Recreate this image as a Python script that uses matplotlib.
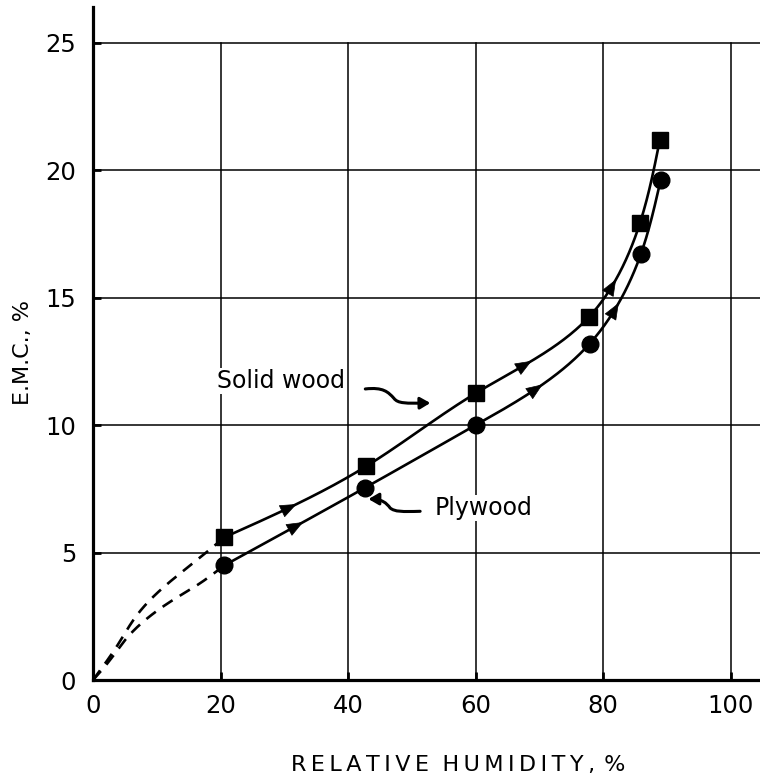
import numpy as np
import matplotlib.pyplot as plt
from matplotlib.patches import FancyArrowPatch
from matplotlib.path import Path

# Measured points (relative humidity %, EMC %)
solid_rh = [20.6, 42.8, 60.0, 77.8, 85.8, 88.9]
solid_emc = [5.6, 8.38, 11.25, 14.25, 17.95, 21.2]
ply_rh = [20.6, 42.7, 60.0, 77.9, 85.9, 89.0]
ply_emc = [4.5, 7.55, 10.0, 13.2, 16.7, 19.6]

# Dashed extrapolation toward the origin
solid_dash_rh = [0, 1.6, 3.8, 6.6, 10.0, 14.0, 17.5, 20.6]
solid_dash_emc = [0, 0.55, 1.35, 2.45, 3.4, 4.25, 4.95, 5.6]
ply_dash_rh = [0, 2.4, 5.3, 8.9, 12.6, 16.8, 20.6]
ply_dash_emc = [0, 0.7, 1.65, 2.5, 3.15, 3.8, 4.5]

x_ticks = [0, 20, 40, 60, 80, 100]
y_ticks = [0, 5, 10, 15, 20, 25]

# where the direction arrows sit on each curve
solid_arrow_rh = [31.4, 68.3, 81.8]
ply_arrow_rh = [32.5, 70.2, 82.2]

# pixel scale of the axes, used to get a sensible chord length
SX, SY = 6.375, 25.48


def natural_spline(t, v, ts):
    # natural cubic spline of v(t), just for drawing
    t = np.asarray(t, float)
    v = np.asarray(v, float)
    n = len(t)
    h = np.diff(t)
    A = np.zeros((n, n))
    b = np.zeros(n)
    A[0, 0] = A[-1, -1] = 1
    for i in range(1, n - 1):
        A[i, i - 1] = h[i - 1]
        A[i, i] = 2 * (h[i - 1] + h[i])
        A[i, i + 1] = h[i]
        b[i] = 3 * ((v[i + 1] - v[i]) / h[i] - (v[i] - v[i - 1]) / h[i - 1])
    c = np.linalg.solve(A, b)
    idx = np.clip(np.searchsorted(t, ts) - 1, 0, n - 2)
    dt = ts - t[idx]
    bb = (v[idx + 1] - v[idx]) / h[idx] - h[idx] * (2 * c[idx] + c[idx + 1]) / 3
    d = (c[idx + 1] - c[idx]) / (3 * h[idx])
    return v[idx] + bb * dt + c[idx] * dt**2 + d * dt**3


def smooth_curve(x, y, n=400):
    x = np.asarray(x, float)
    y = np.asarray(y, float)
    seg = np.hypot(np.diff(x) * SX, np.diff(y) * SY)
    t = np.concatenate([[0], np.cumsum(seg)])
    ts = np.linspace(0, t[-1], n)
    return natural_spline(t, x, ts), natural_spline(t, y, ts)


plt.rcParams['font.family'] = 'DejaVu Sans'

fig = plt.figure(figsize=(7.6, 7.77), dpi=100)
ax = fig.add_axes([0.1224, 0.1248, 0.8776, 0.866])
xmax, ymax = 104.6, 26.4
ax.set_xlim(0, xmax)
ax.set_ylim(0, ymax)

# grid (vertical lines stop at 25, horizontal run to the edge)
for gx in x_ticks[1:]:
    ax.plot([gx, gx], [0, 25], color='black', lw=1.1, zorder=1)
for gy in y_ticks[1:]:
    ax.plot([0, xmax], [gy, gy], color='black', lw=1.1, zorder=1)

lw = 1.9
for rx, ry, dx, dy, mk, ms, arr in [
        (solid_rh, solid_emc, solid_dash_rh, solid_dash_emc, 's', 11, solid_arrow_rh),
        (ply_rh, ply_emc, ply_dash_rh, ply_dash_emc, 'o', 12, ply_arrow_rh)]:
    cx, cy = smooth_curve(rx, ry)
    ax.plot(cx, cy, color='black', lw=lw, zorder=3)
    ddx, ddy = smooth_curve(dx, dy, 200)
    ax.plot(ddx, ddy, color='black', lw=lw, ls=(0, (4.5, 3.2)), zorder=3)
    ax.plot(rx, ry, ls='none', marker=mk, ms=ms, color='black', zorder=4)
    for a in arr:
        k = np.argmin(np.abs(cx - a))
        ax.annotate('', xy=(cx[k + 2], cy[k + 2]), xytext=(cx[k - 2], cy[k - 2]),
                    arrowprops=dict(arrowstyle='-|>,head_length=0.55,head_width=0.22',
                                    mutation_scale=20, color='black', lw=0.5,
                                    shrinkA=0, shrinkB=0), zorder=5)

# labels with their squiggly pointers
ax.text(19.4, 11.73, 'Solid wood', fontsize=17, ha='left', va='center',
        bbox=dict(facecolor='white', edgecolor='none', pad=1), zorder=2)
sq1 = Path([(42.7, 11.42), (45.5, 11.5), (46.3, 11.3), (47.2, 11.05),
            (47.8, 10.85), (49.0, 10.85), (52.9, 10.87)],
           [Path.MOVETO, Path.CURVE4, Path.CURVE4, Path.CURVE4,
            Path.CURVE4, Path.CURVE4, Path.CURVE4])
ax.add_patch(FancyArrowPatch(path=sq1, arrowstyle='-|>,head_length=6,head_width=3.5',
                             color='black', lw=2.2, zorder=5))

ax.text(53.6, 6.75, 'Plywood', fontsize=17, ha='left', va='center',
        bbox=dict(facecolor='white', edgecolor='none', pad=1), zorder=2)
sq2 = Path([(51.3, 6.62), (48.5, 6.6), (47.3, 6.6), (46.6, 6.75),
            (46.0, 6.95), (45.3, 7.1), (43.2, 7.1)],
           [Path.MOVETO, Path.CURVE4, Path.CURVE4, Path.CURVE4,
            Path.CURVE4, Path.CURVE4, Path.CURVE4])
ax.add_patch(FancyArrowPatch(path=sq2, arrowstyle='-|>,head_length=6,head_width=3.5',
                             color='black', lw=2.2, zorder=5))

# axes styling
ax.spines['top'].set_visible(False)
ax.spines['right'].set_visible(False)
ax.spines['left'].set_linewidth(2.3)
ax.spines['bottom'].set_linewidth(2.3)
ax.set_xticks(x_ticks)
ax.set_yticks(y_ticks)
ax.tick_params(direction='in', length=6, width=2, labelsize=17.5, pad=10)
ax.tick_params(axis='y', pad=12)

ax.set_xlabel('R E L A T I V E   H U M I D I T Y ,  %'.replace(' ', '\u2009'),
              fontsize=16)
ax.xaxis.set_label_coords(0.548, -0.111)
ax.set_ylabel('E.M.C., %', fontsize=16)
ax.yaxis.set_label_coords(-0.09, 0.487)

fig.savefig('out.png', dpi=100)
